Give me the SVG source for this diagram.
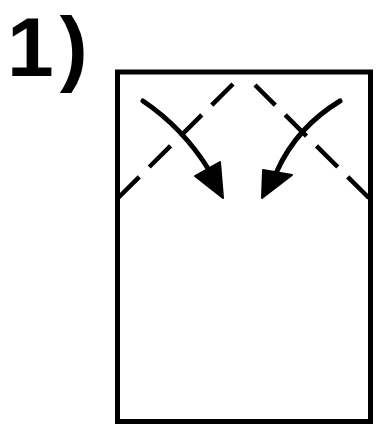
<svg xmlns="http://www.w3.org/2000/svg" width="380" height="433" viewBox="0 0 380 433">
<style>
.frame{fill:none;stroke:#000;stroke-width:5}
.fold{fill:none;stroke:#000;stroke-width:4.5;stroke-dasharray:30 14}
.arr{fill:none;stroke:#000;stroke-width:5;stroke-linecap:round}
.head{fill:#000;stroke:#000;stroke-width:2;stroke-linejoin:round}
.lbl{font-family:"Liberation Sans",Arial,sans-serif;font-weight:bold;font-size:84px;letter-spacing:6px;fill:#000}
</style>
<rect width="380" height="433" fill="#fff"/>
<g id="label"><text class="lbl" x="7" y="76">1)</text></g>
<g id="paper"><rect class="frame" x="117.5" y="72" width="253" height="349.5"/></g>
<g id="folds">
<path class="fold" d="M118,198 L233,84"/>
<path class="fold" d="M369,198 L255,85"/>
</g>
<g id="connectors">
<path class="arr" d="M143,101 Q183,128 209,170"/>
<polygon class="head" points="195,176 220,162 223,198"/>
<path class="arr" d="M340,101 Q297,127 277,171"/>
<polygon class="head" points="263,170 292,175 262,198"/>
</g>
</svg>
